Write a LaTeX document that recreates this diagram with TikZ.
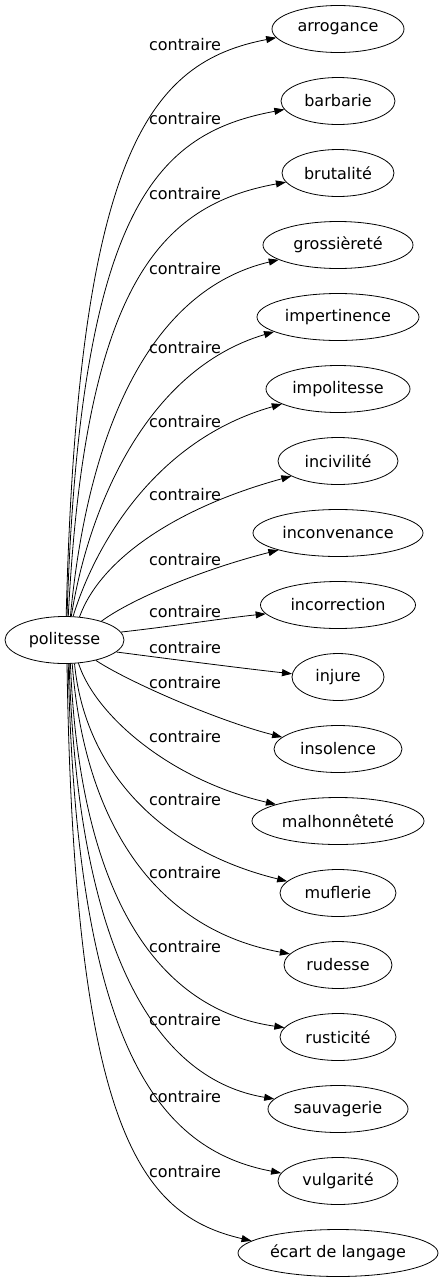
\documentclass[tikz,border=0pt]{standalone}
\usepackage{fontspec}
\setmainfont{DejaVu Sans}
\usetikzlibrary{shapes.geometric,arrows.meta}
\begin{document}
\begin{tikzpicture}[x=1pt,y=-1pt,
  every node/.style={font=\fontsize{16}{19}\selectfont},
  word/.style={draw, ellipse, inner sep=0pt, minimum height=47pt, line width=0.8pt},
  lbl/.style={inner sep=0pt},
  rel/.style={draw, line width=0.8pt, -{Triangle[length=10pt,width=7pt]}}]
\useasboundingbox (0,0) rectangle (443,1283);
\node[word, minimum width=119pt] (p) at (64.5,640) {politesse};
\node[word, minimum width=132pt] (t1) at (338,29) {arrogance};
\node[word, minimum width=114pt] (t2) at (338,101) {barbarie};
\node[word, minimum width=112pt] (t3) at (338,173) {brutalité};
\node[word, minimum width=150pt] (t4) at (338,245) {grossièreté};
\node[word, minimum width=162pt] (t5) at (338,317) {impertinence};
\node[word, minimum width=144pt] (t6) at (338,389) {impolitesse};
\node[word, minimum width=120pt] (t7) at (338,461) {incivilité};
\node[word, minimum width=170pt] (t8) at (338,533) {inconvenance};
\node[word, minimum width=155pt] (t9) at (338,605) {incorrection};
\node[word, minimum width=92pt] (t10) at (338,677) {injure};
\node[word, minimum width=128pt] (t11) at (338,749) {insolence};
\node[word, minimum width=172pt] (t12) at (338,821) {malhonnêteté};
\node[word, minimum width=116pt] (t13) at (338,893) {muflerie};
\node[word, minimum width=108pt] (t14) at (338,965) {rudesse};
\node[word, minimum width=116pt] (t15) at (338,1037) {rusticité};
\node[word, minimum width=140pt] (t16) at (338,1109) {sauvagerie};
\node[word, minimum width=120pt] (t17) at (338,1181) {vulgarité};
\node[word, minimum width=200pt] (t18) at (338,1253) {écart de langage};
\node[lbl] (l1) at (185,45) {contraire};
\node[lbl] (l2) at (185,119) {contraire};
\node[lbl] (l3) at (185,194) {contraire};
\node[lbl] (l4) at (185,269) {contraire};
\node[lbl] (l5) at (185,348) {contraire};
\node[lbl] (l6) at (185,422) {contraire};
\node[lbl] (l7) at (185,495) {contraire};
\node[lbl] (l8) at (185,560) {contraire};
\node[lbl] (l9) at (185,612) {contraire};
\node[lbl] (l10) at (185,648) {contraire};
\node[lbl] (l11) at (185,683) {contraire};
\node[lbl] (l12) at (185,737) {contraire};
\node[lbl] (l13) at (185,800) {contraire};
\node[lbl] (l14) at (185,873) {contraire};
\node[lbl] (l15) at (185,947) {contraire};
\node[lbl] (l16) at (185,1020) {contraire};
\node[lbl] (l17) at (185,1097) {contraire};
\node[lbl] (l18) at (185,1172) {contraire};
\draw[rel] (p.86) .. controls (78,150) and (150,62) .. (t1.188);
\draw[rel] (p.84) .. controls (80,205) and (158,133) .. (t2.189);
\draw[rel] (p.81) .. controls (85,285) and (160,205) .. (t3.190);
\draw[rel] (p.76) .. controls (88,430) and (150,290) .. (t4.194);
\draw[rel] (p.74) .. controls (88,510) and (145,370) .. (t5.193);
\draw[rel] (p.70) .. controls (95,545) and (155,440) .. (t6.195);
\draw[rel] (p.57) .. controls (100,560) and (175,508) .. (t7.198);
\draw[rel] (p.27) .. controls (130,600) and (200,570) .. (t8.196);
\draw[rel] (p.8) .. controls (175,626) and (225,618) .. (t9.187);
\draw[rel] (p.-13) .. controls (170,659) and (240,668) .. (t10.176);
\draw[rel] (p.-33) .. controls (125,680) and (215,720) .. (t11.168);
\draw[rel] (p.-59) .. controls (95,715) and (170,780) .. (t12.165);
\draw[rel] (p.-67) .. controls (85,770) and (160,850) .. (t13.167);
\draw[rel] (p.-72) .. controls (85,830) and (160,930) .. (t14.167);
\draw[rel] (p.-76) .. controls (80,900) and (160,1010) .. (t15.170);
\draw[rel] (p.-79) .. controls (78,960) and (160,1080) .. (t16.171);
\draw[rel] (p.-81) .. controls (76,1050) and (160,1150) .. (t17.172);
\draw[rel] (p.-84) .. controls (74,1130) and (140,1215) .. (t18.172);
\end{tikzpicture}
\end{document}
